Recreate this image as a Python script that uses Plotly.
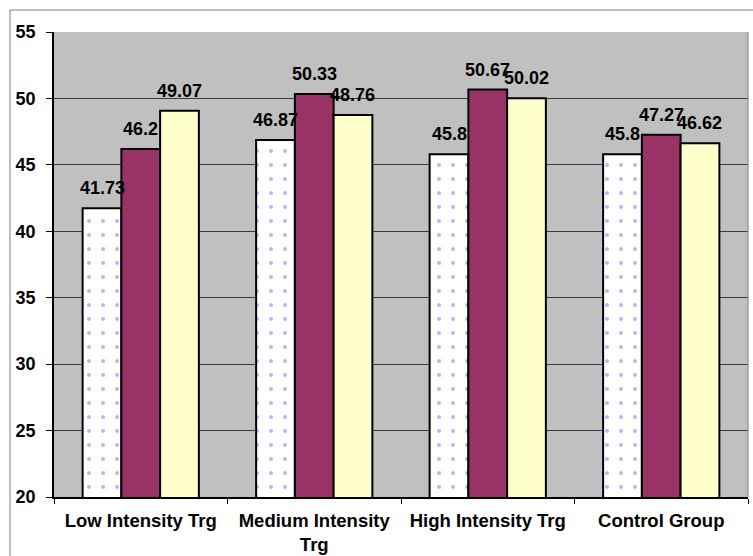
import plotly.graph_objects as go

categories = ["Low Intensity Trg", "Medium Intensity<br>Trg", "High Intensity Trg", "Control Group"]
series1 = [41.73, 46.87, 45.8, 45.8]
series2 = [46.2, 50.33, 50.67, 47.27]
series3 = [49.07, 48.76, 50.02, 46.62]
labels1 = ["41.73", "46.87", "45.8", "45.8"]
labels2 = ["46.2", "50.33", "50.67", "47.27"]
labels3 = ["49.07", "48.76", "50.02", "46.62"]
y_ticks = [20, 25, 30, 35, 40, 45, 50, 55]

FONT = "Liberation Sans, Arial, sans-serif"
label_font = dict(family=FONT, size=18, color="black", weight="bold")

W, H = 753, 556
ml, mr, mt, mb = 54, 5, 32, 59
pw, ph = W - ml - mr, H - mt - mb
BARGAP = 0.33
bar_px = pw / len(categories) * (1 - BARGAP) / 3

fig = go.Figure()
fig.add_trace(go.Bar(
    name="Series 1", x=categories, y=series1,
    marker=dict(color="white", line=dict(color="black", width=2),
                pattern=dict(shape=".", fgcolor="#6A6AFF", bgcolor="white",
                             size=14, solidity=0.06, fillmode="overlay")),
))
fig.add_trace(go.Bar(
    name="Series 2", x=categories, y=series2,
    marker=dict(color="#993366", line=dict(color="black", width=2)),
))
fig.add_trace(go.Bar(
    name="Series 3", x=categories, y=series3,
    marker=dict(color="#FFFFCC", line=dict(color="black", width=2)),
))

annotations = []
for vals, labs, shift in [(series1, labels1, -bar_px), (series2, labels2, 0), (series3, labels3, bar_px)]:
    for c, v, t in zip(categories, vals, labs):
        annotations.append(dict(x=c, y=v, xref="x", yref="y", text=t, showarrow=False,
                                xanchor="center", yanchor="bottom", xshift=shift, yshift=8,
                                font=label_font))

fig.update_layout(
    width=W, height=H,
    margin=dict(l=ml, r=mr, t=mt, b=mb, pad=0, autoexpand=False),
    paper_bgcolor="white", plot_bgcolor="#C0C0C0",
    barmode="group", bargap=BARGAP, bargroupgap=0,
    showlegend=False,
    font=dict(family=FONT, color="black", weight="bold"),
    annotations=annotations,
    shapes=[
        dict(type="line", xref="paper", yref="paper", x0=1, x1=1, y0=0, y1=1,
             line=dict(color="#808080", width=1)),
        dict(type="line", xref="paper", yref="paper",
             x0=(10 - ml) / pw, x1=(10 - ml) / pw, y0=1 + (mt - 10) / ph, y1=-0.3,
             line=dict(color="#808080", width=1)),
        dict(type="line", xref="paper", yref="paper",
             x0=(10 - ml) / pw, x1=1.2, y0=1 + (mt - 10) / ph, y1=1 + (mt - 10) / ph,
             line=dict(color="#808080", width=1)),
    ],
)
fig.update_xaxes(
    type="category", showline=True, linecolor="black", linewidth=1.5,
    ticks="outside", tickson="boundaries", ticklen=5, tickcolor="black",
    ticklabelstandoff=6, automargin=False,
    tickfont=dict(family=FONT, size=18.5, color="black", weight="bold"),
    showgrid=False,
)
fig.update_yaxes(
    range=[20, 55], tickvals=y_ticks, ticktext=[str(v) for v in y_ticks],
    showline=True, linecolor="black", linewidth=1.5,
    ticks="outside", ticklen=6, tickcolor="black",
    ticklabelstandoff=7, automargin=False,
    tickfont=dict(family=FONT, size=18, color="black", weight="bold"),
    showgrid=True, gridcolor="#3A3A3A", gridwidth=1, zeroline=False,
)

fig.write_html("out.html", config={"displayModeBar": False},
               post_script="document.body.style.margin='0';document.body.style.overflow='hidden';")
